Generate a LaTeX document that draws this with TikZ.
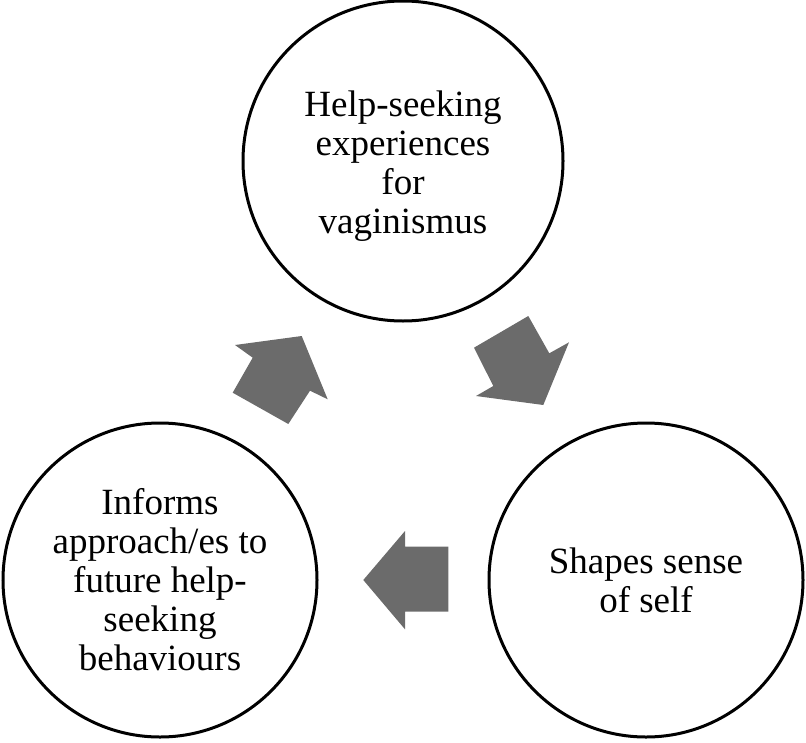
\documentclass[tikz,border=0pt]{standalone}
\usepackage{fontspec}
\setmainfont{Liberation Serif}
\definecolor{arrowgray}{HTML}{6B6B6B}
\begin{document}
\begin{tikzpicture}[x=1pt,y=-1pt,
  bubble/.style={circle,draw=black,line width=3pt,inner sep=0pt,align=center,
    font=\fontsize{37}{39}\selectfont},
  bubbletext/.style={inner sep=0pt,align=center,font=\fontsize{37}{39}\selectfont},
  blockarrow/.style={fill=arrowgray,draw=none}]
\useasboundingbox (0,0) rectangle (806,742);
\node[bubble,minimum size=320pt] (top) at (403,161) {};
\node[bubbletext] (toptext) at (403,166) {Help-seeking\\experiences\\for\\vaginismus};
\node[bubble,minimum size=314pt] (left) at (160,580) {Informs\\approach/es to\\future help-\\seeking\\behaviours};
\node[bubble,minimum size=314pt] (right) at (646,580) {Shapes sense\\of self};
% arrow left -> top
\fill[blockarrow] (232.7,392.7) -- (252.7,357.7) -- (235,345) -- (301.7,336) -- (327.7,399.3) -- (310,390.7) -- (288.3,424) -- cycle;
% arrow top -> right
\fill[blockarrow] (528.3,316) -- (549.3,353.3) -- (569,342.3) -- (543.3,405) -- (476,396) -- (493.3,386) -- (474,347.7) -- cycle;
% arrow right -> left
\fill[blockarrow] (448.3,546.7) -- (405,546.7) -- (405,531) -- (363.3,580) -- (405,629.3) -- (405,611.7) -- (448.3,611.7) -- cycle;
\end{tikzpicture}
\end{document}
